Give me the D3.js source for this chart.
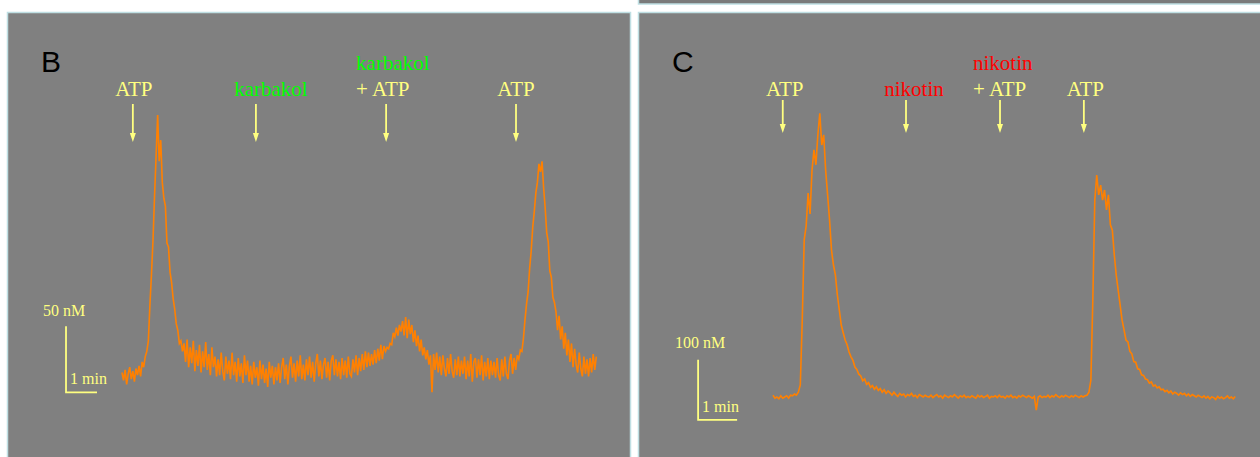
<!DOCTYPE html>
<html>
<head>
<meta charset="utf-8">
<script src="https://cdn.jsdelivr.net/npm/d3@7"></script>
<style>
  body { margin: 0; background: #fff; }
  svg { display: block; }
</style>
</head>
<body>
<svg id="fig" width="1260" height="457"></svg>
<script>
// --- data ---------------------------------------------------------------
// sampling step of both traces, minutes
const stepMin = 0.05;

// panel B: [Ca2+] trace, nM, one row = 1 min
const traceB = [
  36, 30, 38, 27, 35, 40, 31, 37, 29, 39, 34, 41, 33, 44, 40, 48, 52, 60, 87, 110,
  136, 170, 200, 231, 196, 212, 180, 168, 162, 134, 131, 112, 104, 92, 84, 73, 68, 58, 60, 52,
  58, 44, 61, 40, 55, 43, 60, 37, 53, 41, 57, 36, 52, 40, 59, 38, 50, 34, 55, 40,
  48, 33, 46, 34, 51, 37, 30, 48, 35, 45, 31, 51, 34, 44, 29, 47, 33, 43, 28, 49,
  34, 45, 29, 41, 27, 44, 32, 40, 26, 45, 31, 42, 28, 39, 25, 44, 32, 41, 27, 40,
  30, 43, 28, 40, 47, 31, 42, 27, 41, 48, 32, 43, 29, 45, 33, 49, 31, 42, 30, 46,
  34, 48, 32, 44, 29, 43, 50, 33, 45, 31, 42, 47, 32, 44, 30, 45, 49, 34, 46, 33,
  44, 31, 47, 34, 45, 32, 48, 35, 33, 46, 36, 49, 34, 47, 37, 50, 38, 52, 40, 51,
  41, 50, 42, 53, 43, 54, 45, 57, 46, 56, 52, 55, 54, 58, 57, 66, 63, 70, 64, 72,
  67, 75, 64, 78, 62, 76, 65, 72, 59, 68, 56, 64, 52, 61, 49, 55, 46, 53, 42, 49,
  21, 50, 38, 51, 36, 48, 34, 49, 39, 33, 47, 35, 50, 37, 32, 46, 34, 48, 33, 45,
  35, 48, 31, 45, 33, 50, 29, 44, 47, 32, 46, 34, 49, 30, 44, 33, 47, 31, 45, 34,
  44, 32, 47, 34, 30, 46, 33, 48, 35, 31, 45, 50, 35, 47, 38, 49, 46, 53, 52, 62,
  76, 88, 97, 115, 128, 146, 158, 172, 180, 194, 188, 196, 176, 161, 142, 135, 113, 108, 93, 89,
  82, 68, 79, 61, 71, 54, 66, 49, 61, 44, 58, 40, 54, 42, 36, 51, 39, 33, 48, 35,
  46, 33, 47, 36, 50, 38, 48
];

// panel C: [Ca2+] trace, nM, one row = 1 min
const traceC = [
  58, 53, 55, 52, 57, 53, 55, 57, 53, 58, 57, 60, 58, 63, 75, 183, 317, 340, 395, 360,
  433, 467, 442, 492, 528, 475, 492, 433, 392, 350, 300, 275, 258, 225, 200, 175, 162, 150, 142, 130,
  122, 116, 105, 101, 93, 90, 82, 85, 76, 79, 71, 74, 68, 72, 66, 69, 63, 67, 61, 65,
  62, 58, 63, 59, 56, 61, 58, 60, 55, 59, 57, 61, 56, 58, 54, 59, 57, 55, 58, 56,
  55, 58, 54, 57, 59, 55, 57, 53, 58, 56, 54, 57, 55, 59, 56, 53, 57, 55, 58, 54,
  56, 54, 57, 55, 53, 58, 55, 57, 54, 56, 58, 53, 56, 55, 57, 54, 58, 55, 56, 53,
  57, 55, 58, 54, 56, 53, 57, 55, 58, 56, 54, 57, 55, 53, 56, 33, 55, 57, 54, 56,
  55, 58, 54, 57, 55, 59, 56, 54, 57, 55, 58, 56, 54, 57, 55, 58, 56, 54, 57, 55,
  57, 58, 63, 83, 217, 383, 425, 392, 408, 383, 400, 367, 392, 342, 333, 292, 258, 233, 208, 183,
  167, 150, 147, 131, 127, 114, 113, 102, 101, 92, 91, 85, 84, 78, 80, 73, 75, 70, 72, 67,
  68, 64, 66, 62, 65, 60, 63, 61, 58, 62, 59, 61, 57, 60, 56, 59, 57, 55, 58, 56,
  54, 57, 53, 56, 52, 55, 54, 51, 56, 53, 55, 52, 54, 57, 53, 55, 52, 56
];

// application times (min) and their labels
const eventsB = [0.35, 4.32, 8.52, 12.71];
const labelsB = [
  [{text: "ATP", kind: "atp"}],
  [{text: "karbakol", kind: "drugB"}],
  [{text: "karbakol", kind: "drugB"}, {text: "+ ATP", kind: "atp"}],
  [{text: "ATP", kind: "atp"}]
];
const eventsC = [0.25, 3.41, 5.82, 7.97];
const labelsC = [
  [{text: "ATP", kind: "atp"}],
  [{text: "nikotin", kind: "drugC"}],
  [{text: "nikotin", kind: "drugC"}, {text: "+ ATP", kind: "atp"}],
  [{text: "ATP", kind: "atp"}]
];

// scale bars: [minutes, nM]
const barB = [1, 50];
const barC = [1, 100];

// --- drawing ------------------------------------------------------------
const colors = {atp: "#ffff80", drugB: "#00ff00", drugC: "#ff0000"};
const bg = "#808080", frame = "#bfdfe3", trace = "#ff8000", yellow = "#ffff80";
const svg = d3.select("#fig");

// frames
svg.append("rect").attr("x", 638.5).attr("y", -10).attr("width", 640).attr("height", 14)
   .attr("fill", "#7a7a7a").attr("stroke", frame).attr("stroke-width", 1.5);
svg.append("rect").attr("x", 7.5).attr("y", 12.5).attr("width", 623).attr("height", 460)
   .attr("fill", bg).attr("stroke", frame).attr("stroke-width", 1.5);
svg.append("rect").attr("x", 638.5).attr("y", 12.5).attr("width", 640).attr("height", 460)
   .attr("fill", bg).attr("stroke", frame).attr("stroke-width", 1.5);

function panel(p) {
  const g = svg.append("g");
  const n = p.values.length;
  const x = d3.scaleLinear().domain([0, (n - 1) * stepMin]).range(p.xRange);
  const y = d3.scaleLinear().domain(p.yDomain).range(p.yRange);

  g.append("text").attr("x", p.letterX).attr("y", 72)
   .attr("font-family", "Liberation Sans, Arial, sans-serif").attr("font-size", 30)
   .attr("fill", "#000").text(p.letter);

  // trace
  const line = d3.line()
    .x((d, i) => x(i * stepMin))
    .y(d => y(d));
  g.append("path").datum(p.values)
   .attr("fill", "none").attr("stroke", trace)
   .attr("stroke-width", 1.6).attr("stroke-linejoin", "miter")
   .attr("d", line);

  // arrows and labels
  p.events.forEach((t, i) => {
    const ax = x(t);
    g.append("line").attr("x1", ax).attr("x2", ax)
     .attr("y1", p.arrowY[0]).attr("y2", p.arrowY[1] - 9)
     .attr("stroke", yellow).attr("stroke-width", 1.8);
    g.append("path")
     .attr("d", `M${ax - 3},${p.arrowY[1] - 9}L${ax + 3},${p.arrowY[1] - 9}L${ax},${p.arrowY[1]}Z`)
     .attr("fill", yellow);
    const lines = p.labels[i];
    const off = p.labelDx[i];
    lines.forEach((l, j) => {
      g.append("text")
       .attr("x", ax + off[0])
       .attr("y", 96 - (lines.length - 1 - j) * 26)
       .attr("text-anchor", off[1])
       .attr("font-family", "Liberation Serif, Times New Roman, serif")
       .attr("font-size", 21)
       .attr("fill", colors[l.kind])
       .text(l.text);
    });
  });

  // scale bar
  const bx = x(p.barAt[0]), by = y(p.barAt[1]);
  const bx2 = x(p.barAt[0] + p.bar[0]), by2 = y(p.barAt[1] + p.bar[1]);
  g.append("path").attr("d", `M${bx},${by2}L${bx},${by}L${bx2},${by}`)
   .attr("fill", "none").attr("stroke", yellow).attr("stroke-width", 1.8);
  g.append("text").attr("x", p.nmLabel[0]).attr("y", p.nmLabel[1])
   .attr("font-family", "Liberation Serif, Times New Roman, serif").attr("font-size", 16)
   .attr("fill", yellow).text(p.bar[1] + " nM");
  g.append("text").attr("x", bx + 4).attr("y", by - 8)
   .attr("font-family", "Liberation Serif, Times New Roman, serif").attr("font-size", 16)
   .attr("fill", yellow).text(p.bar[0] + " min");
}

panel({
  letter: "B", letterX: 41,
  values: traceB, xRange: [122, 596.3], yDomain: [0, 250], yRange: [420, 90],
  events: eventsB, labels: labelsB, arrowY: [104, 142],
  labelDx: [[1, "middle"], [15, "middle"], [-30, "start"], [0, "middle"]],
  bar: barB, barAt: [-1.806, 21], nmLabel: [43, 316]
});

panel({
  letter: "C", letterX: 672,
  values: traceC, xRange: [773, 1235.2], yDomain: [0, 600], yRange: [430, 70],
  events: eventsC, labels: labelsC, arrowY: [100, 133],
  labelDx: [[2, "middle"], [8, "middle"], [-27, "start"], [1.5, "middle"]],
  bar: barC, barAt: [-1.92, 17], nmLabel: [675, 348]
});
</script>
</body>
</html>
